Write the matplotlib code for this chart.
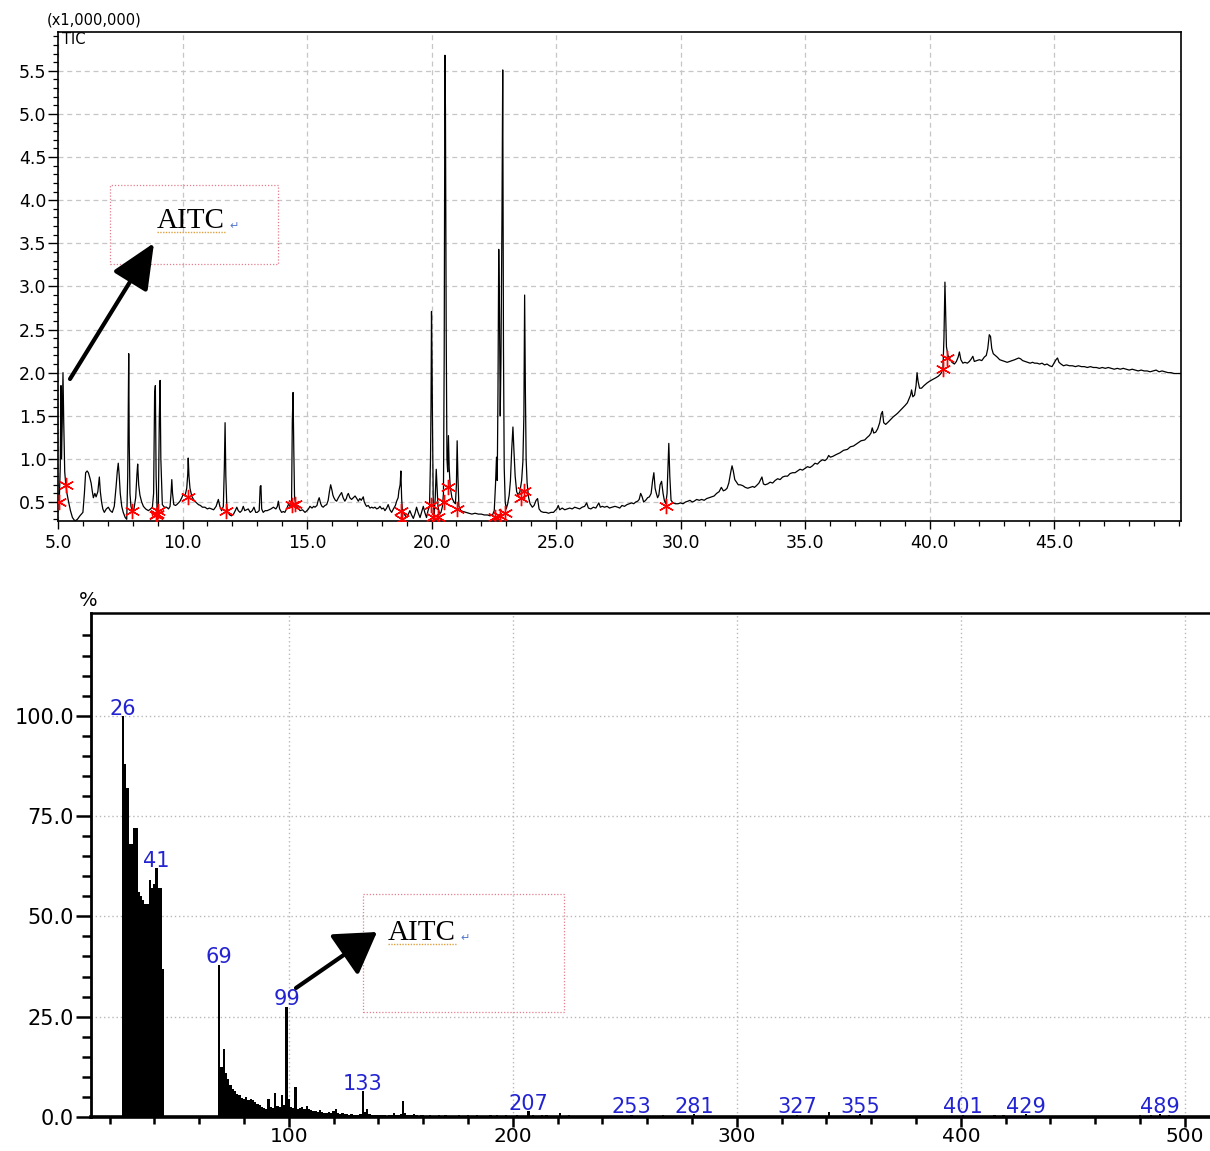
import matplotlib
matplotlib.use('Agg')
import matplotlib.pyplot as plt
from matplotlib.ticker import MultipleLocator, FixedLocator, FormatStrFormatter
from matplotlib.patches import Rectangle, FancyArrowPatch
from matplotlib.lines import Line2D

# ---------------- TIC chromatogram data (retention time, min ; intensity x1e6) ----------------
rt_a = [5.00, 5.05, 5.09, 5.12, 5.14, 5.17, 5.20, 5.23, 5.27, 5.31, 5.36, 5.42, 5.50, 5.58, 5.68, 5.78, 5.88, 6.00, 6.06, 6.11, 6.17, 6.22, 6.28, 6.33, 6.38, 6.42, 6.48, 6.53, 6.60, 6.66, 6.70, 6.75, 6.80, 6.86, 6.94, 7.02, 7.10, 7.18, 7.26, 7.33]
tic_a = [0.48, 0.50, 0.90, 1.85, 1.00, 1.42, 2.00, 1.43, 0.85, 0.71, 0.60, 0.51, 0.40, 0.32, 0.28, 0.30, 0.34, 0.38, 0.60, 0.84, 0.86, 0.84, 0.78, 0.72, 0.62, 0.55, 0.60, 0.56, 0.62, 0.79, 0.62, 0.50, 0.42, 0.38, 0.42, 0.44, 0.40, 0.38, 0.45, 0.67]
rt_b = [7.38, 7.42, 7.46, 7.50, 7.56, 7.62, 7.70, 7.76, 7.80, 7.84, 7.86, 7.89, 7.93, 7.98, 8.05, 8.12, 8.17, 8.20, 8.24, 8.29, 8.36, 8.43, 8.52, 8.63, 8.72, 8.79, 8.84, 8.88, 8.91, 8.94, 8.98, 9.03, 9.07, 9.10, 9.13, 9.19, 9.27, 9.36, 9.44, 9.50]
tic_b = [0.85, 0.95, 0.80, 0.60, 0.45, 0.38, 0.32, 0.30, 0.80, 2.22, 1.20, 0.60, 0.45, 0.40, 0.42, 0.55, 0.82, 0.94, 0.70, 0.58, 0.50, 0.45, 0.42, 0.40, 0.42, 0.44, 0.60, 1.75, 1.85, 0.80, 0.40, 0.45, 1.50, 1.91, 1.00, 0.47, 0.44, 0.44, 0.42, 0.45]
rt_c = [9.54, 9.57, 9.60, 9.65, 9.72, 9.77, 9.84, 9.90, 9.97, 10.03, 10.10, 10.17, 10.21, 10.23, 10.26, 10.30, 10.37, 10.44, 10.53, 10.64, 10.72, 10.80, 10.90, 11.00, 11.08, 11.17, 11.25, 11.35, 11.44, 11.50, 11.57, 11.64, 11.68, 11.71, 11.74, 11.78, 11.81, 11.90, 11.97, 12.05]
tic_c = [0.60, 0.76, 0.60, 0.47, 0.46, 0.47, 0.49, 0.51, 0.55, 0.59, 0.57, 0.66, 0.82, 1.01, 0.80, 0.66, 0.57, 0.53, 0.50, 0.47, 0.46, 0.44, 0.44, 0.42, 0.43, 0.42, 0.41, 0.45, 0.53, 0.45, 0.40, 0.45, 0.90, 1.42, 0.80, 0.45, 0.38, 0.35, 0.34, 0.36]
rt_d = [12.12, 12.18, 12.24, 12.31, 12.38, 12.44, 12.50, 12.57, 12.64, 12.72, 12.80, 12.87, 12.94, 13.00, 13.08, 13.12, 13.15, 13.18, 13.24, 13.32, 13.40, 13.48, 13.55, 13.65, 13.75, 13.81, 13.85, 13.90, 13.98, 14.05, 14.11, 14.18, 14.25, 14.32, 14.38, 14.41, 14.44, 14.47, 14.50, 14.55]
tic_d = [0.40, 0.44, 0.40, 0.38, 0.40, 0.45, 0.40, 0.41, 0.42, 0.38, 0.40, 0.44, 0.38, 0.38, 0.40, 0.68, 0.69, 0.42, 0.38, 0.40, 0.40, 0.41, 0.42, 0.44, 0.42, 0.45, 0.51, 0.42, 0.38, 0.39, 0.38, 0.42, 0.47, 0.46, 0.50, 1.44, 1.77, 1.10, 0.55, 0.47]
rt_e = [14.62, 14.72, 14.82, 14.92, 15.00, 15.06, 15.12, 15.20, 15.27, 15.32, 15.40, 15.45, 15.49, 15.55, 15.60, 15.65, 15.72, 15.79, 15.85, 15.90, 15.95, 16.00, 16.04, 16.08, 16.14, 16.19, 16.26, 16.32, 16.39, 16.45, 16.52, 16.58, 16.62, 16.66, 16.72, 16.79, 16.86, 16.93, 17.00, 17.06]
tic_e = [0.44, 0.40, 0.41, 0.38, 0.40, 0.42, 0.45, 0.43, 0.45, 0.44, 0.46, 0.52, 0.55, 0.48, 0.45, 0.44, 0.46, 0.47, 0.52, 0.62, 0.70, 0.64, 0.58, 0.55, 0.52, 0.51, 0.55, 0.58, 0.61, 0.55, 0.51, 0.54, 0.58, 0.60, 0.55, 0.53, 0.55, 0.57, 0.54, 0.51]
rt_f = [17.12, 17.18, 17.26, 17.30, 17.35, 17.39, 17.46, 17.53, 17.60, 17.66, 17.73, 17.80, 17.87, 17.93, 18.00, 18.07, 18.13, 18.20, 18.26, 18.33, 18.40, 18.47, 18.55, 18.60, 18.66, 18.69, 18.74, 18.77, 18.80, 18.83, 18.90, 19.00, 19.07, 19.13, 19.20, 19.27, 19.34, 19.40, 19.46, 19.54]
tic_f = [0.54, 0.52, 0.56, 0.50, 0.47, 0.45, 0.46, 0.43, 0.44, 0.43, 0.44, 0.42, 0.43, 0.45, 0.42, 0.43, 0.40, 0.43, 0.47, 0.41, 0.38, 0.42, 0.46, 0.51, 0.55, 0.63, 0.70, 0.86, 0.55, 0.40, 0.36, 0.32, 0.36, 0.40, 0.35, 0.31, 0.37, 0.44, 0.38, 0.32]
rt_g = [19.60, 19.67, 19.73, 19.80, 19.86, 19.92, 19.96, 19.98, 20.00, 20.02, 20.04, 20.07, 20.11, 20.15, 20.19, 20.22, 20.26, 20.32, 20.38, 20.44, 20.48, 20.51, 20.54, 20.56, 20.59, 20.62, 20.65, 20.68, 20.71, 20.75, 20.82, 20.90, 20.96, 21.00, 21.03, 21.06, 21.10, 21.18, 21.27, 21.38]
tic_g = [0.38, 0.45, 0.38, 0.32, 0.40, 0.45, 1.00, 1.60, 2.71, 2.20, 1.40, 0.50, 0.36, 0.55, 0.88, 0.70, 0.45, 0.36, 0.38, 0.45, 0.60, 2.20, 5.68, 5.05, 2.50, 1.00, 0.85, 1.27, 0.90, 0.68, 0.55, 0.50, 0.48, 0.70, 1.21, 0.80, 0.45, 0.40, 0.39, 0.38]
rt_h = [21.50, 21.62, 21.75, 21.88, 22.00, 22.12, 22.25, 22.35, 22.45, 22.52, 22.57, 22.61, 22.64, 22.67, 22.70, 22.73, 22.76, 22.79, 22.83, 22.86, 22.89, 22.92, 22.96, 23.00, 23.06, 23.12, 23.17, 23.22, 23.27, 23.31, 23.36, 23.42, 23.48, 23.55, 23.62, 23.67, 23.71, 23.74, 23.77, 23.80]
tic_h = [0.37, 0.36, 0.37, 0.36, 0.36, 0.35, 0.35, 0.34, 0.35, 0.40, 0.70, 1.02, 0.75, 1.80, 3.43, 2.71, 1.50, 2.16, 3.82, 5.51, 2.30, 0.90, 0.50, 0.42, 0.48, 0.58, 0.75, 1.10, 1.37, 1.10, 0.80, 0.62, 0.58, 0.62, 0.75, 0.97, 1.50, 2.90, 1.80, 1.00]
rt_i = [23.84, 23.90, 23.96, 24.05, 24.12, 24.20, 24.26, 24.32, 24.40, 24.50, 24.60, 24.70, 24.80, 24.90, 24.96, 25.03, 25.09, 25.15, 25.25, 25.35, 25.45, 25.55, 25.65, 25.75, 25.85, 25.95, 26.05, 26.15, 26.23, 26.30, 26.40, 26.50, 26.60, 26.66, 26.72, 26.78, 26.86, 26.95, 27.05, 27.15]
tic_i = [0.72, 0.55, 0.48, 0.44, 0.46, 0.52, 0.54, 0.42, 0.39, 0.38, 0.38, 0.37, 0.38, 0.38, 0.40, 0.42, 0.46, 0.41, 0.43, 0.41, 0.42, 0.43, 0.42, 0.44, 0.43, 0.42, 0.44, 0.45, 0.49, 0.43, 0.42, 0.44, 0.43, 0.46, 0.49, 0.44, 0.45, 0.44, 0.45, 0.43]
rt_j = [27.25, 27.37, 27.48, 27.56, 27.65, 27.75, 27.85, 27.95, 28.04, 28.12, 28.20, 28.28, 28.34, 28.40, 28.46, 28.52, 28.60, 28.68, 28.75, 28.82, 28.88, 28.93, 28.98, 29.03, 29.08, 29.13, 29.18, 29.24, 29.30, 29.35, 29.41, 29.46, 29.50, 29.53, 29.57, 29.62, 29.70, 29.80, 29.90, 30.00]
tic_j = [0.44, 0.45, 0.44, 0.43, 0.46, 0.45, 0.47, 0.48, 0.49, 0.48, 0.50, 0.51, 0.53, 0.60, 0.56, 0.50, 0.52, 0.55, 0.56, 0.60, 0.75, 0.84, 0.66, 0.60, 0.55, 0.58, 0.70, 0.74, 0.60, 0.52, 0.48, 0.60, 0.95, 1.18, 0.80, 0.52, 0.49, 0.48, 0.48, 0.49]
rt_k = [30.10, 30.20, 30.30, 30.38, 30.47, 30.55, 30.65, 30.75, 30.85, 30.95, 31.05, 31.15, 31.25, 31.35, 31.45, 31.55, 31.64, 31.72, 31.80, 31.87, 31.94, 32.02, 32.07, 32.12, 32.18, 32.25, 32.32, 32.40, 32.50, 32.60, 32.70, 32.80, 32.90, 32.97, 33.05, 33.15, 33.22, 33.27, 33.33, 33.40]
tic_k = [0.48, 0.50, 0.51, 0.52, 0.50, 0.51, 0.53, 0.52, 0.53, 0.52, 0.54, 0.55, 0.56, 0.57, 0.60, 0.62, 0.67, 0.63, 0.64, 0.66, 0.72, 0.85, 0.92, 0.86, 0.76, 0.73, 0.70, 0.70, 0.69, 0.67, 0.66, 0.67, 0.68, 0.67, 0.69, 0.72, 0.76, 0.79, 0.71, 0.70]
rt_l = [33.50, 33.60, 33.70, 33.80, 33.90, 34.00, 34.10, 34.20, 34.30, 34.40, 34.50, 34.60, 34.70, 34.80, 34.90, 35.00, 35.10, 35.20, 35.30, 35.40, 35.50, 35.60, 35.70, 35.80, 35.88, 35.95, 36.02, 36.12, 36.25, 36.40, 36.55, 36.70, 36.82, 36.95, 37.10, 37.25, 37.40, 37.50, 37.58, 37.65]
tic_l = [0.71, 0.73, 0.72, 0.75, 0.77, 0.76, 0.79, 0.80, 0.80, 0.83, 0.84, 0.84, 0.86, 0.88, 0.87, 0.89, 0.91, 0.90, 0.92, 0.95, 0.94, 0.97, 0.99, 0.98, 1.00, 1.04, 1.02, 1.03, 1.05, 1.07, 1.10, 1.11, 1.14, 1.15, 1.18, 1.21, 1.22, 1.25, 1.27, 1.30]
rt_m = [37.70, 37.76, 37.84, 37.92, 38.00, 38.06, 38.11, 38.16, 38.24, 38.35, 38.45, 38.55, 38.64, 38.72, 38.82, 38.92, 39.02, 39.11, 39.18, 39.24, 39.28, 39.33, 39.40, 39.46, 39.50, 39.54, 39.60, 39.68, 39.78, 39.90, 40.00, 40.12, 40.25, 40.36, 40.46, 40.54, 40.58, 40.62, 40.65, 40.68]
tic_m = [1.36, 1.30, 1.31, 1.35, 1.42, 1.52, 1.55, 1.42, 1.40, 1.43, 1.46, 1.49, 1.51, 1.53, 1.56, 1.59, 1.62, 1.65, 1.70, 1.74, 1.80, 1.72, 1.74, 1.85, 2.00, 1.90, 1.82, 1.82, 1.85, 1.88, 1.90, 1.92, 1.94, 1.96, 1.99, 2.05, 2.40, 3.05, 2.70, 2.30]
rt_n = [40.74, 40.82, 40.90, 41.00, 41.08, 41.15, 41.20, 41.26, 41.34, 41.42, 41.52, 41.60, 41.68, 41.74, 41.80, 41.90, 42.00, 42.10, 42.20, 42.28, 42.34, 42.40, 42.45, 42.50, 42.56, 42.64, 42.72, 42.82, 42.92, 43.02, 43.12, 43.22, 43.32, 43.42, 43.50, 43.58, 43.66, 43.74, 43.84, 43.94]
tic_n = [2.20, 2.16, 2.12, 2.10, 2.13, 2.18, 2.24, 2.15, 2.11, 2.12, 2.11, 2.13, 2.16, 2.19, 2.13, 2.14, 2.15, 2.14, 2.18, 2.20, 2.28, 2.44, 2.42, 2.28, 2.22, 2.20, 2.18, 2.15, 2.14, 2.13, 2.12, 2.13, 2.14, 2.15, 2.16, 2.17, 2.16, 2.14, 2.13, 2.12]
rt_o = [44.04, 44.14, 44.22, 44.32, 44.42, 44.52, 44.62, 44.72, 44.82, 44.92, 45.00, 45.08, 45.14, 45.20, 45.28, 45.38, 45.50, 45.62, 45.74, 45.86, 45.98, 46.10, 46.22, 46.34, 46.46, 46.58, 46.70, 46.82, 46.94, 47.06, 47.18, 47.30, 47.42, 47.54, 47.66, 47.78, 47.90, 48.02, 48.14, 48.26]
tic_o = [2.11, 2.12, 2.11, 2.11, 2.10, 2.11, 2.09, 2.10, 2.08, 2.07, 2.11, 2.15, 2.17, 2.12, 2.10, 2.08, 2.09, 2.08, 2.08, 2.07, 2.08, 2.07, 2.07, 2.06, 2.07, 2.06, 2.06, 2.05, 2.06, 2.05, 2.06, 2.05, 2.04, 2.05, 2.04, 2.05, 2.04, 2.03, 2.04, 2.03]
rt_p = [48.38, 48.50, 48.62, 48.74, 48.86, 48.98, 49.10, 49.22, 49.34, 49.46, 49.58, 49.70, 49.82, 49.94, 50.10]
tic_p = [2.02, 2.03, 2.02, 2.02, 2.01, 2.02, 2.03, 2.01, 2.02, 2.01, 2.00, 2.00, 1.99, 1.99, 1.99]

# peak integration marks (red asterisks)
mark_t = [5.05, 5.31, 7.98, 8.93, 8.98, 9.03, 10.23, 11.73, 14.41, 14.52, 18.78, 18.80, 19.97, 20.06, 20.26, 20.50, 20.66, 21.02, 22.56, 22.75, 22.97, 23.60, 23.72, 29.42, 40.55, 40.72]
mark_v = [0.50, 0.70, 0.40, 0.35, 0.36, 0.40, 0.56, 0.40, 0.47, 0.48, 0.40, 0.30, 0.47, 0.33, 0.33, 0.50, 0.67, 0.42, 0.33, 0.34, 0.37, 0.55, 0.63, 0.45, 2.04, 2.17]

# ---------------- mass spectrum data (m/z ; relative intensity %) ----------------
ms_mz_a = list(range(26, 45))
ms_int_a = [100, 88, 82, 68, 68, 72, 72, 56, 55, 54, 53, 53, 59, 57, 58, 62, 57, 57, 37]
ms_mz_b = list(range(69, 161))
ms_int_b = [38.0, 12.4, 17.0, 11.0, 9.5, 8.0, 7.0, 6.6, 5.8, 5.4,
            4.8, 4.6, 5.0, 4.3, 4.6, 4.2, 3.7, 3.2, 2.9, 2.6,
            2.3, 2.1, 4.5, 2.4, 2.2, 6.0, 2.8, 2.6, 5.4, 3.0,
            27.5, 4.6, 2.6, 2.2, 7.6, 2.1, 2.2, 2.5, 2.0, 2.8,
            2.1, 1.8, 1.4, 1.5, 1.3, 1.7, 1.2, 0.9, 1.1, 1.3,
            1.0, 1.6, 1.9, 1.0, 0.8, 0.9, 0.7, 0.8, 0.6, 0.7,
            0.5, 0.6, 0.5, 0.8, 6.5, 1.2, 1.9, 0.8, 0.5, 0.4,
            0.5, 0.4, 0.6, 0.4, 0.5, 0.3, 0.6, 0.5, 1.0, 0.6,
            0.4, 0.7, 4.0, 1.0, 0.6, 0.4, 0.5, 0.7, 0.4, 0.3,
            0.5, 0.4]
ms_mz_c = [163, 167, 170, 176, 180, 184, 190, 193, 197, 202, 207, 209, 213, 215, 221, 225, 241, 253, 267, 272, 281, 300, 320, 327, 341, 355, 367, 395, 401, 415, 419, 429, 436, 480, 485, 489, 493]
ms_int_c = [0.6, 0.4, 0.5, 0.5, 0.4, 0.6, 0.5, 0.4, 0.6, 0.5, 1.5, 0.6, 0.5, 0.4, 0.9, 0.5, 0.3, 0.6, 0.5, 0.3, 0.8, 0.3, 0.3, 0.6, 1.2, 0.7, 0.3, 0.3, 0.6, 0.4, 0.5, 0.7, 0.3, 0.4, 0.5, 0.7, 0.4]
label_mz = [26, 41, 69, 99, 133, 207, 253, 281, 327, 355, 401, 429, 489]

rt = rt_a + rt_b + rt_c + rt_d + rt_e + rt_f + rt_g + rt_h + rt_i + rt_j + rt_k + rt_l + rt_m + rt_n + rt_o + rt_p
tic = tic_a + tic_b + tic_c + tic_d + tic_e + tic_f + tic_g + tic_h + tic_i + tic_j + tic_k + tic_l + tic_m + tic_n + tic_o + tic_p
ms_mz = ms_mz_a + ms_mz_b + ms_mz_c
ms_int = ms_int_a + ms_int_b + ms_int_c
ms_lookup = dict(zip(ms_mz, ms_int))

# ---------------- figure ----------------
W, H = 1210, 1151
fig = plt.figure(figsize=(W / 100, H / 100), dpi=100)
plt.rcParams['font.family'] = ['DejaVu Sans']


def fx(px):
    return px / W


def fy(py):
    return 1 - py / H


# ---- top: TIC ----
ax1 = fig.add_axes([fx(58), fy(521), fx(1181) - fx(58), fy(32) - fy(521)])
ax1.plot(rt, tic, color='black', lw=0.9, zorder=3)
ax1.plot(mark_t, mark_v, linestyle='none', marker=(6, 2, 0), ms=11,
         mec='red', mew=1.0, zorder=4)
ax1.set_xlim(5.0, 50.1)
ax1.set_ylim(0.28, 5.95)
ax1.xaxis.set_major_locator(FixedLocator([5, 10, 15, 20, 25, 30, 35, 40, 45]))
ax1.xaxis.set_minor_locator(MultipleLocator(1))
ax1.yaxis.set_major_locator(MultipleLocator(0.5))
ax1.yaxis.set_minor_locator(MultipleLocator(0.1))
ax1.xaxis.set_major_formatter(FormatStrFormatter('%.1f'))
ax1.yaxis.set_major_formatter(FormatStrFormatter('%.1f'))
ax1.grid(True, which='major', color='#c6c6c6', linestyle=(0, (4, 3)), lw=0.9)
ax1.set_axisbelow(True)
for s in ax1.spines.values():
    s.set_linewidth(1.2)
ax1.tick_params(axis='x', which='major', direction='out', length=6, width=1, labelsize=12.5, pad=3)
ax1.tick_params(axis='x', which='minor', direction='out', length=3.5, width=0.9)
ax1.tick_params(axis='y', which='major', direction='out', length=7.2, width=1, labelsize=12.5, pad=1)
ax1.tick_params(axis='y', which='minor', direction='out', length=3.6, width=0.9)

fig.text(fx(47), fy(20), '(x1,000,000)', fontsize=10.5, va='center', ha='left')
fig.text(fx(62), fy(40), 'TIC', fontsize=10.5, va='center', ha='left')

# ---- bottom: mass spectrum ----
ax2 = fig.add_axes([fx(90.7), fy(1117), 1 - fx(90.7), fy(613) - fy(1117)])
ax2.bar(ms_mz, ms_int, width=1.0, color='black', linewidth=0, zorder=3)
ax2.set_xlim(11.6, 511.2)
ax2.set_ylim(0, 125.6)
ax2.xaxis.set_major_locator(FixedLocator([100, 200, 300, 400, 500]))
ax2.xaxis.set_minor_locator(MultipleLocator(20))
ax2.yaxis.set_major_locator(FixedLocator([0, 25, 50, 75, 100]))
ax2.yaxis.set_minor_locator(FixedLocator(list(range(5, 125, 5))))
ax2.yaxis.set_major_formatter(FormatStrFormatter('%.1f'))
ax2.xaxis.set_major_formatter(FormatStrFormatter('%d'))
ax2.grid(True, which='major', color='#b8b8b8', linestyle=(0, (1, 2)), lw=1.0)
ax2.set_axisbelow(True)
ax2.spines['right'].set_visible(False)
ax2.spines['left'].set_linewidth(2.0)
ax2.spines['bottom'].set_linewidth(2.6)
ax2.spines['top'].set_linewidth(1.8)
ax2.tick_params(axis='y', which='major', direction='out', length=11, width=1.8, labelsize=15, pad=1)
ax2.tick_params(axis='y', which='minor', direction='out', length=6.5, width=1.8)
ax2.tick_params(axis='x', which='major', direction='out', length=7, width=1.8, labelsize=14.5, pad=0)
ax2.tick_params(axis='x', which='minor', direction='out', length=5, width=1.8)

for m in label_mz:
    ax2.text(m, ms_lookup[m] + 0.3, str(m), color='#2323d2', fontsize=15,
             ha='center', va='baseline', zorder=5)

fig.text(fx(88), fy(601), '%', fontsize=14, va='center', ha='center')

# ---- AITC annotations ----
def aitc_box(x0, y0, x1, y1, tx, ty, tail, tip, hl, hw):
    fig.add_artist(Rectangle((fx(x0), fy(y1)), fx(x1) - fx(x0), fy(y0) - fy(y1),
                             transform=fig.transFigure, fill=False,
                             edgecolor='#e57f8f', lw=0.9, linestyle=(0, (1, 1.5))))
    fig.text(fx(tx), fy(ty), 'AITC', fontfamily='Liberation Serif', fontsize=21,
             va='baseline', ha='left')
    ux1 = tx + 68
    fig.add_artist(Line2D([fx(tx), fx(ux1)], [fy(ty + 4), fy(ty + 4)],
                          transform=fig.transFigure, color='#e0a040', lw=1.0,
                          linestyle=(0, (1, 1))))
    fig.text(fx(ux1 + 4), fy(ty + 1), '\u21b5', color='#5577cc', fontsize=8,
             va='baseline', ha='left')
    fig.add_artist(FancyArrowPatch((fx(tail[0]), fy(tail[1])), (fx(tip[0]), fy(tip[1])),
                                   transform=fig.transFigure,
                                   arrowstyle='-|>,head_length=%g,head_width=%g' % (hl, hw),
                                   mutation_scale=1, lw=3, color='black',
                                   shrinkA=0, shrinkB=0))


aitc_box(110, 185, 278, 264, 157, 228, (70, 379), (154, 243), 28, 12.5)
aitc_box(363, 894, 564, 1012, 388, 940, (296, 988), (377, 932), 25, 15.5)

fig.savefig('out.png', dpi=100)
